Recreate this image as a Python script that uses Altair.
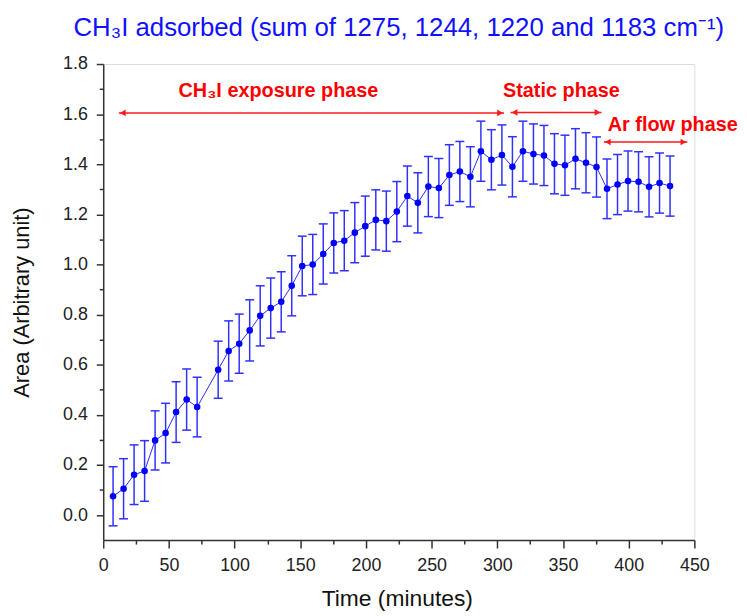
import altair as alt
import pandas as pd

# ---- data ----
times = [7.5, 15.5, 23.5, 31.5, 39.5, 47.5, 55.5, 63.5, 71.5,
         87.5, 95.5, 103.5, 111.5, 119.5, 127.5, 135.5, 143.5, 151.5, 159.5,
         167.5, 175.5, 183.5, 191.5, 199.5, 207.5, 215.5, 223.5, 231.5, 239.5,
         247.5, 255.5, 263.5, 271.5, 279.5, 287.5, 295.5, 303.5, 311.5, 319.5,
         327.5, 335.5, 343.5, 351.5, 359.5, 367.5, 375.5, 383.5, 391.5, 399.5,
         407.5, 415.5, 423.5, 431.5]
area = [0.075, 0.105, 0.161, 0.176, 0.298, 0.327, 0.411, 0.461, 0.431,
        0.580, 0.655, 0.684, 0.737, 0.795, 0.826, 0.851, 0.915, 0.994, 1.000,
        1.042, 1.086, 1.095, 1.127, 1.153, 1.178, 1.173, 1.211, 1.273, 1.246,
        1.311, 1.305, 1.357, 1.371, 1.350, 1.452, 1.418, 1.437, 1.390, 1.452,
        1.441, 1.435, 1.402, 1.396, 1.422, 1.406, 1.389, 1.302, 1.319, 1.333,
        1.330, 1.310, 1.325, 1.313]
errors = [0.118, 0.120, 0.119, 0.121, 0.118, 0.119, 0.121, 0.122, 0.119,
          0.114, 0.120, 0.118, 0.122, 0.120, 0.120, 0.120, 0.120, 0.119, 0.120,
          0.120, 0.120, 0.120, 0.120, 0.120, 0.120, 0.120, 0.120, 0.120, 0.120,
          0.120, 0.118, 0.121, 0.120, 0.120, 0.120, 0.120, 0.120, 0.120, 0.120,
          0.120, 0.120, 0.120, 0.120, 0.120, 0.120, 0.120, 0.119, 0.120, 0.120,
          0.120, 0.120, 0.120, 0.120]

x_major = [0, 50, 100, 150, 200, 250, 300, 350, 400, 450]
x_minor = [25, 75, 125, 175, 225, 275, 325, 375, 425]
y_major = [0.0, 0.2, 0.4, 0.6, 0.8, 1.0, 1.2, 1.4, 1.6, 1.8]
y_minor = [0.1, 0.3, 0.5, 0.7, 0.9, 1.1, 1.3, 1.5, 1.7]

phase_text = ["CH₃I exposure phase", "Static phase"]
phase_text_x = [133.4, 348.8]
phase_text_y = [1.692, 1.692]
ar_text = ["Ar flow phase"]
ar_text_x = [384.1]
ar_text_y = [1.556]

arrow_start = [11.9, 310.1, 381.1]
arrow_end = [305.1, 379.3, 444.7]
arrow_y = [1.605, 1.607, 1.489]

title_text = "CH₃I adsorbed (sum of 1275, 1244, 1220 and 1183 cm⁻¹)"

# ---- tables ----
df = pd.DataFrame({"t": times, "a": area, "e": errors})
df["lo"] = df["a"] - df["e"]
df["hi"] = df["a"] + df["e"]
txt_df = pd.DataFrame({"label": phase_text, "x": phase_text_x, "y": phase_text_y})
ar_df = pd.DataFrame({"label": ar_text, "x": ar_text_x, "y": ar_text_y})
arr_df = pd.DataFrame({"x1": arrow_start, "x2": arrow_end, "y": arrow_y})

FONT = "Liberation Sans"
BLUE = "#0000ff"
EBLUE = "#3030ff"
RED = "#ff1a1a"
AX = "#333333"

xs = alt.Scale(domain=[0, 450], nice=False, zero=False)
ys = alt.Scale(domain=[-0.1, 1.8], nice=False, zero=False)

major_x = alt.Axis(values=x_major, orient="bottom", title="Time (minutes)",
                   tickSize=8, tickWidth=1.5, tickColor=AX, domainColor=AX, domainWidth=1.5,
                   labelPadding=9, labelFontSize=18, labelColor="#222222", labelFont=FONT,
                   titleFont=FONT, titleFontSize=23, titleFontWeight="normal", titleColor="#111111",
                   titleX=296, titleY=59, titleAlign="center", titleBaseline="middle",
                   grid=False, labelFlush=False)
major_y = alt.Axis(values=y_major, orient="left", title="Area (Arbitrary unit)", format=".1f",
                   tickSize=7, tickWidth=1.5, tickColor=AX, domainColor=AX, domainWidth=1.5,
                   labelPadding=9, labelFontSize=18, labelColor="#222222", labelFont=FONT,
                   titleFont=FONT, titleFontSize=22, titleFontWeight="normal", titleColor="#111111",
                   titleX=-82, titleY=240, titleAngle=270, titleAlign="center", titleBaseline="middle",
                   grid=False, labelFlush=False)
minor_x = alt.Axis(values=x_minor, orient="bottom", labels=False, domain=False, grid=False,
                   title=None, tickSize=4, tickWidth=1.5, tickColor=AX)
minor_y = alt.Axis(values=y_minor, orient="left", labels=False, domain=False, grid=False,
                   title=None, tickSize=4, tickWidth=1.5, tickColor=AX)

base = alt.Chart(df)

err_rules = base.mark_rule(color=EBLUE, strokeWidth=1.5).encode(
    x=alt.X("t:Q", scale=xs, axis=minor_x),
    y=alt.Y("lo:Q", scale=ys, axis=minor_y),
    y2="hi:Q",
)
cap_lo = base.mark_tick(color=EBLUE, orient="horizontal", size=9, thickness=1.5, opacity=1).encode(
    x=alt.X("t:Q", scale=xs, axis=None),
    y=alt.Y("lo:Q", scale=ys, axis=None),
)
cap_hi = base.mark_tick(color=EBLUE, orient="horizontal", size=9, thickness=1.5, opacity=1).encode(
    x=alt.X("t:Q", scale=xs, axis=None),
    y=alt.Y("hi:Q", scale=ys, axis=None),
)
line = base.mark_line(color="#2a2aff", strokeWidth=1).encode(
    x=alt.X("t:Q", scale=xs, axis=None),
    y=alt.Y("a:Q", scale=ys, axis=None),
)
points = base.mark_circle(color=BLUE, size=44, opacity=1).encode(
    x=alt.X("t:Q", scale=xs, axis=major_x),
    y=alt.Y("a:Q", scale=ys, axis=major_y),
)

arrows = alt.Chart(arr_df).mark_rule(color=RED, strokeWidth=1.5).encode(
    x=alt.X("x1:Q", scale=xs, axis=None),
    x2="x2:Q",
    y=alt.Y("y:Q", scale=ys, axis=None),
)
heads_l = alt.Chart(arr_df).mark_point(shape="triangle-left", filled=True, color=RED,
                                       size=45, opacity=1, xOffset=4).encode(
    x=alt.X("x1:Q", scale=xs, axis=None),
    y=alt.Y("y:Q", scale=ys, axis=None),
)
heads_r = alt.Chart(arr_df).mark_point(shape="triangle-right", filled=True, color=RED,
                                       size=45, opacity=1, xOffset=-4).encode(
    x=alt.X("x2:Q", scale=xs, axis=None),
    y=alt.Y("y:Q", scale=ys, axis=None),
)
labels_c = alt.Chart(txt_df).mark_text(color="#ff0000", font=FONT, fontSize=20, fontWeight="bold",
                                       align="center", baseline="middle").encode(
    x=alt.X("x:Q", scale=xs, axis=None),
    y=alt.Y("y:Q", scale=ys, axis=None),
    text="label:N",
)
labels_l = alt.Chart(ar_df).mark_text(color="#ff0000", font=FONT, fontSize=20, fontWeight="bold",
                                      align="left", baseline="middle").encode(
    x=alt.X("x:Q", scale=xs, axis=None),
    y=alt.Y("y:Q", scale=ys, axis=None),
    text="label:N",
)

chart = alt.layer(
    err_rules, cap_lo, cap_hi, line, points, arrows, heads_l, heads_r, labels_c, labels_l
).resolve_axis(x="independent", y="independent").properties(
    width=596,
    height=480,
    title=alt.TitleParams(title_text, font=FONT, fontSize=26, fontWeight="normal",
                          color="#1010ff", anchor="middle", baseline="bottom", offset=22, dy=34),
    autosize=alt.AutoSizeParams(type="none"),
    padding={"left": 96, "top": 54, "right": 45, "bottom": 72},
).configure_view(stroke=None).configure(background="white")

chart.save("out.html", embed_options={"renderer": "svg", "actions": False})
